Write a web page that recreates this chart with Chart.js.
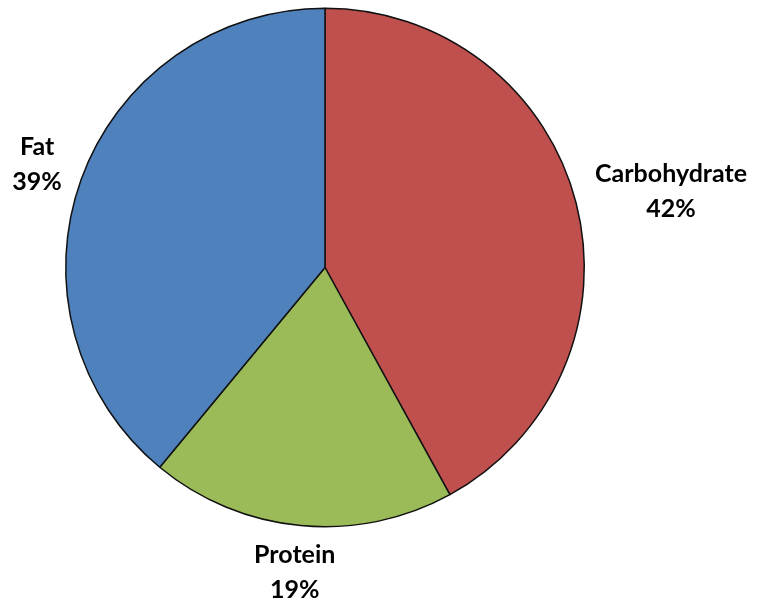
<!DOCTYPE html>
<html>
<head>
<meta charset="utf-8">
<script src="https://cdn.jsdelivr.net/npm/chart.js@4"></script>
<style>
  html, body { margin: 0; padding: 0; background: #fff; }
  #wrap { width: 759px; height: 606px; }
</style>
</head>
<body>
<div id="wrap"><canvas id="myChart"></canvas></div>
<script>
// energy split, clockwise from 12 o'clock
var categories = ["Carbohydrate", "Protein", "Fat"];
var shares = [42, 19, 39];
var sliceColors = ["#C0504D", "#9BBB59", "#4F81BD"];

// draws "Name / NN%" outside each slice, pushed out by the box size
const outsideLabels = {
  id: "outsideLabels",
  afterDatasetsDraw(chart) {
    const ctx = chart.ctx;
    const meta = chart.getDatasetMeta(0);
    ctx.save();
    ctx.font = "bold 25px Lato";
    ctx.fillStyle = "#000";
    ctx.textAlign = "center";
    ctx.textBaseline = "middle";
    meta.data.forEach((arc, i) => {
      const mid = (arc.startAngle + arc.endAngle) / 2;
      const lines = [categories[i], shares[i] + "%"];
      const w = Math.max(...lines.map((t) => ctx.measureText(t).width));
      const h = 50;
      const r = arc.outerRadius + 22;
      const cx = arc.x + Math.cos(mid) * (r + w / 2);
      const cy = arc.y + Math.sin(mid) * (r + h / 2);
      ctx.fillText(lines[0], cx, cy - 17);
      ctx.fillText(lines[1], cx, cy + 18);
    });
    ctx.restore();
  },
};

var ctx = document.getElementById("myChart").getContext("2d");
var chart = new Chart(ctx, {
  type: "pie",
  data: {
    labels: categories,
    datasets: [
      {
        data: shares,
        backgroundColor: sliceColors,
        borderColor: "#111",
        borderWidth: 1.5,
      },
    ],
  },
  options: {
    responsive: true,
    maintainAspectRatio: false,
    animation: false,
    layout: { padding: { left: 65, right: 174, top: 7, bottom: 78 } },
    plugins: {
      legend: { display: false },
      tooltip: { enabled: false },
    },
  },
  plugins: [outsideLabels],
});
</script>
</body>
</html>
